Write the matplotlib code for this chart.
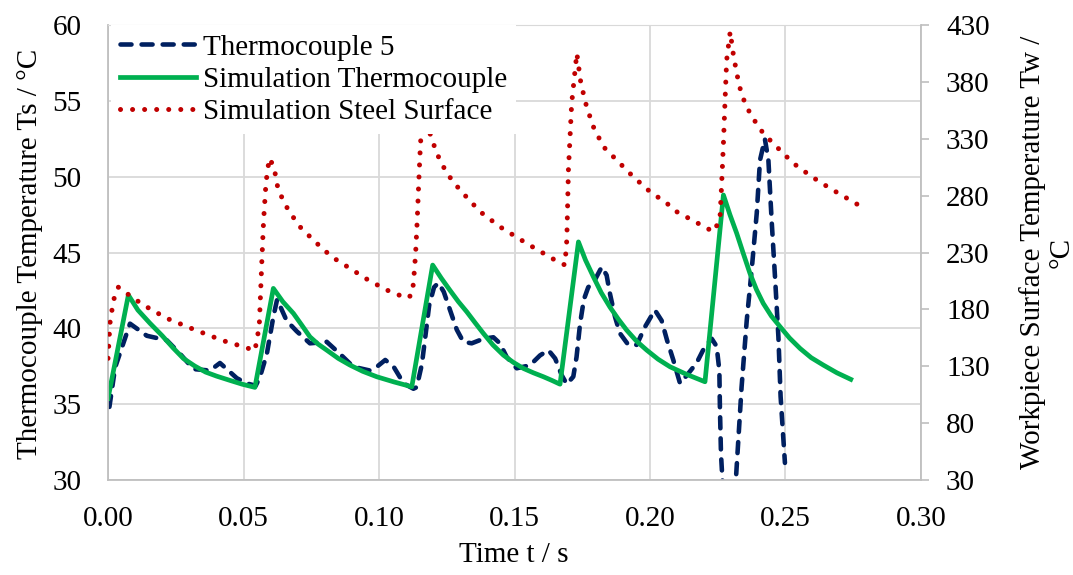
import matplotlib
matplotlib.use("Agg")
import matplotlib.pyplot as plt

plt.rcParams['font.family'] = ['Liberation Serif', 'DejaVu Serif']

# Thermocouple 5 (measured), left axis
t_tc = [0.0005, 0.0026, 0.0081, 0.0143, 0.0217, 0.0266, 0.0315, 0.0376, 0.0413, 0.0438,
        0.0475, 0.0512, 0.0545, 0.0561, 0.0586, 0.0610, 0.0624, 0.0659, 0.0696, 0.0745,
        0.0807, 0.0856, 0.0905, 0.0967, 0.0992, 0.1023, 0.1054, 0.1091, 0.1127, 0.1139,
        0.1158, 0.1172, 0.1185, 0.1203, 0.1219, 0.1239, 0.1262, 0.1287, 0.1311, 0.1342,
        0.1385, 0.1422, 0.1446, 0.1471, 0.1508, 0.1557, 0.1594, 0.1625, 0.1650, 0.1674,
        0.1693, 0.1717, 0.1729, 0.1742, 0.1756, 0.1772, 0.1797, 0.1822, 0.1840, 0.1852,
        0.1871, 0.1889, 0.1920, 0.1951, 0.1982, 0.2018, 0.2043, 0.2063, 0.2086, 0.2111,
        0.2141, 0.2172, 0.2203, 0.2228, 0.2246, 0.2256, 0.2258, 0.2262, 0.2275, 0.2290,
        0.2305, 0.2317, 0.2338, 0.2357, 0.2375, 0.2394, 0.2406, 0.2424, 0.2437, 0.2449,
        0.2462, 0.2474, 0.2482, 0.2498]
T_tc = [34.8, 37.4, 40.3, 39.5, 39.2, 38.3, 37.3, 37.2, 37.7, 37.3,
        36.7, 36.35, 36.2, 36.8, 38.3, 40.75, 41.9, 40.5, 39.8, 39.0,
        39.1, 38.3, 37.45, 37.2, 37.45, 37.9, 37.45, 36.35, 36.0, 36.1,
        37.6, 39.6, 41.5, 42.7, 43.0, 42.4, 41.2, 39.9, 39.1, 39.0,
        39.3, 39.4, 39.0, 38.1, 37.35, 37.55, 38.2, 38.55, 38.0, 36.9,
        36.3, 36.8, 38.1, 40.3, 41.9, 42.7, 43.2, 44.05, 43.5, 42.3,
        40.75, 39.66, 38.9, 38.9, 40.1, 41.2, 40.5, 39.2, 37.9, 36.35,
        37.0, 37.7, 38.8, 39.3, 38.8, 37.2, 34.8, 31.7, 27.5, 26.0,
        27.5, 30.0, 36.1, 40.5, 43.8, 47.6, 51.1, 52.5, 51.1, 47.1,
        43.2, 39.4, 35.5, 31.1]

# Simulation Thermocouple, left axis
t_sim = [0.0, 0.0075, 0.0110, 0.0155, 0.0200, 0.0240, 0.0278, 0.0320, 0.0360, 0.0401,
         0.0450, 0.0495, 0.0542,
         0.0610, 0.0645, 0.0684, 0.0715, 0.0745, 0.0775, 0.0807, 0.0850, 0.0893, 0.0940,
         0.0992, 0.1055, 0.1121,
         0.1198, 0.1230, 0.1262, 0.1293, 0.1324, 0.1355, 0.1385, 0.1420, 0.1459, 0.1495,
         0.1533, 0.1570, 0.1607, 0.1638, 0.1668,
         0.1736, 0.1762, 0.1791, 0.1820, 0.1852, 0.1883, 0.1914, 0.1950, 0.1988, 0.2030,
         0.2074, 0.2135, 0.2203,
         0.2271, 0.2295, 0.2320, 0.2345, 0.2369, 0.2393, 0.2418, 0.2448, 0.2480, 0.2515,
         0.2554, 0.2595, 0.2640, 0.2690, 0.2741]
T_sim = [35.36, 42.19, 41.2, 40.32, 39.5, 38.7, 38.0, 37.5, 37.1, 36.83,
         36.55, 36.3, 36.09,
         42.63, 41.75, 40.98, 40.2, 39.43, 38.95, 38.55, 38.0, 37.56, 37.15,
         36.79, 36.45, 36.13,
         44.17, 43.3, 42.5, 41.75, 41.08, 40.35, 39.66, 38.9, 38.22, 37.75,
         37.34, 37.05, 36.79, 36.55, 36.3,
         45.7, 44.5, 43.4, 42.35, 41.4, 40.6, 39.87, 39.15, 38.55, 37.95,
         37.45, 36.95, 36.46,
         48.8, 47.5, 46.27, 44.9, 43.62, 42.55, 41.64, 40.8, 40.1, 39.35,
         38.66, 38.05, 37.56, 37.05, 36.62]

# Simulation Steel Surface, right axis
t_surf = [0.0, 0.0007, 0.0020, 0.0038, 0.0069, 0.0130, 0.0217, 0.0315, 0.0425, 0.0506,
          0.0542, 0.0558, 0.0563, 0.0568, 0.0574, 0.0583, 0.0595, 0.0612, 0.0628, 0.0665,
          0.0708, 0.0764, 0.0825, 0.0893, 0.0960, 0.1028, 0.1065, 0.1102, 0.1121, 0.1127,
          0.1135, 0.1141, 0.1147, 0.1153, 0.1160, 0.1172, 0.1188, 0.1213, 0.1250, 0.1299,
          0.1373, 0.1446, 0.1545, 0.1649, 0.1686, 0.1693, 0.1699, 0.1711, 0.1730, 0.1745,
          0.1766, 0.1791, 0.1828, 0.1883, 0.1938, 0.2000, 0.2062, 0.2098, 0.2166, 0.2234,
          0.2258, 0.2264, 0.2271, 0.2277, 0.2283, 0.2296, 0.2307, 0.2320, 0.2338, 0.2372,
          0.2418, 0.2473, 0.2529, 0.2597, 0.2664, 0.2769]
T_surf = [136.8, 167.6, 188.0, 199.4, 194.0, 183.8, 172.0, 162.4, 152.3, 146.5,
          143.5, 165.0, 195.0, 225.0, 258.0, 292.0, 313.0, 305.6, 285.0, 267.4,
          252.7, 239.5, 226.3, 216.0, 205.8, 197.0, 193.4, 189.7, 192.6, 203.0,
          229.0, 258.6, 293.9, 326.2, 345.0, 352.0, 335.0, 317.4, 299.8, 285.0,
          266.0, 252.7, 238.0, 223.4, 219.0, 241.0, 302.7, 361.5, 405.5, 379.0,
          358.5, 340.8, 323.2, 310.0, 296.8, 283.6, 273.4, 266.0, 257.2, 248.3,
          258.7, 288.0, 326.0, 364.0, 399.6, 424.5, 405.5, 387.9, 368.8, 351.1,
          335.0, 321.8, 308.6, 296.8, 286.6, 271.9]

x_ticks = [0.00, 0.05, 0.10, 0.15, 0.20, 0.25, 0.30]
left_ticks = [30, 35, 40, 45, 50, 55, 60]
right_ticks = [30, 80, 130, 180, 230, 280, 330, 380, 430]

fs = 21
grid_c = '#D9D9D9'
spine_c = '#BFBFBF'

fig = plt.figure(figsize=(10.73, 5.75), dpi=100)
ax = fig.add_axes([0.1007, 0.166, 0.7576, 0.7897])
ax2 = ax.twinx()

l1, = ax.plot(t_tc, T_tc, color='#002060', lw=3.3, linestyle=(0, (2.4, 2.2)),
              dash_capstyle='round', label='Thermocouple 5')
l2, = ax.plot(t_sim, T_sim, color='#00B050', lw=3.4, solid_joinstyle='round',
              label='Simulation Thermocouple')
l3, = ax2.plot(t_surf, T_surf, color='#C00000', lw=3.6, linestyle=(0, (0.01, 2.4)),
               dash_capstyle='round', label='Simulation Steel Surface')

ax.set_xlim(0, 0.30)
ax.set_ylim(30, 60)
ax2.set_ylim(30, 430)
ax.set_xticks(x_ticks)
ax.set_xticklabels([f'{v:.2f}' for v in x_ticks])
ax.set_yticks(left_ticks)
ax2.set_yticks(right_ticks)

ax.grid(True, color=grid_c, lw=1.3)
ax.set_axisbelow(True)

ax.tick_params(axis='x', length=0, pad=19, labelsize=fs)
ax.tick_params(axis='y', length=0, pad=19, labelsize=fs)
ax2.tick_params(axis='y', length=6, width=1.2, color=spine_c, pad=12, labelsize=fs)

for s in ['left', 'bottom']:
    ax.spines[s].set_color(spine_c)
    ax.spines[s].set_linewidth(1.3)
ax.spines['top'].set_color(grid_c)
ax.spines['right'].set_visible(False)
for s in ['left', 'bottom', 'top']:
    ax2.spines[s].set_visible(False)
ax2.spines['right'].set_color(spine_c)
ax2.spines['right'].set_linewidth(1.3)

fig.text(514 / 1073, 1 - 555 / 575, 'Time t / s', fontsize=fs,
         ha='center', va='center')
fig.text(30 / 1073, 1 - 254 / 575, 'Thermocouple Temperature Ts / °C', fontsize=fs,
         rotation=90, ha='center', va='center')
fig.text(1047 / 1073, 1 - 252 / 575, 'Workpiece Surface Temperature Tw /\n°C',
         fontsize=fs, rotation=90, ha='center', va='center',
         multialignment='center', linespacing=1.1)

leg = ax2.legend(handles=[l1, l2, l3], loc='upper left', bbox_to_anchor=(0.004, 1.0),
                 fontsize=fs, frameon=True, fancybox=False, framealpha=1,
                 edgecolor='none', facecolor='white', borderaxespad=0,
                 borderpad=0.3, labelspacing=0.2, handlelength=2.6,
                 handletextpad=0.25)
leg.set_zorder(10)

fig.savefig('out.png', dpi=100)
